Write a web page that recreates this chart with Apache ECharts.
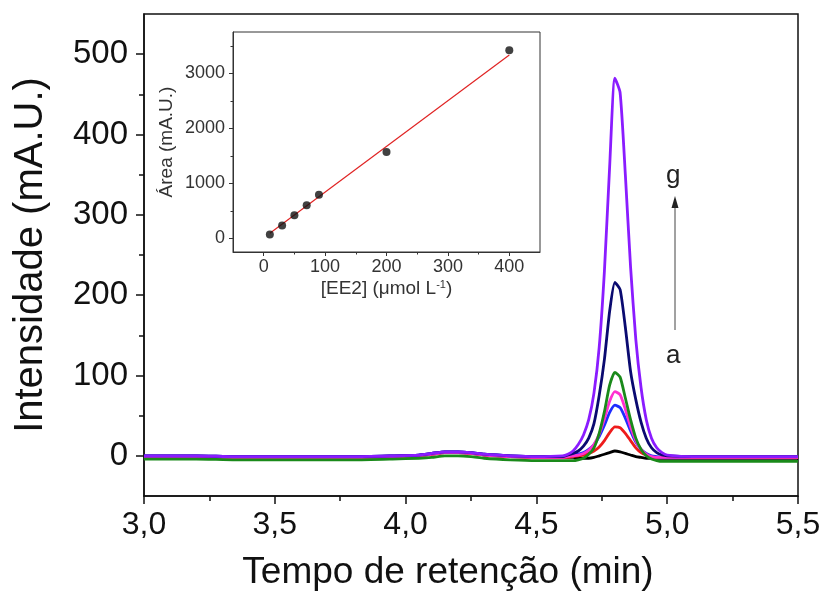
<!DOCTYPE html>
<html>
<head>
<meta charset="utf-8">
<script src="https://cdn.jsdelivr.net/npm/echarts@6/dist/echarts.min.js"></script>
<style>html,body{margin:0;padding:0;background:#fff}#c{width:825px;height:596px}</style>
</head>
<body>
<div id="c"></div>
<script>
// ---- Main chromatogram data (retention time in min, intensity in mA.U.) ----
const times = [3.0, 3.2, 3.35, 3.4, 3.6, 3.8, 3.95, 4.05, 4.1, 4.15, 4.2, 4.25, 4.3, 4.4, 4.5,
  4.60, 4.62, 4.64, 4.66, 4.68, 4.70, 4.72, 4.74, 4.76, 4.78, 4.80, 4.82, 4.84, 4.86, 4.88, 4.90, 4.92, 4.94, 4.96, 4.98, 5.00,
  5.1, 5.3, 5.5];
const curveA = [-1,-1,-2,-2,-2,-2,-1,0,2,4,4,3,1,-1,-2,
  -2,-2,-2,-3,-3,-3,-2,0,2,4,6,5,3,1,-1,-2,-3,-3,-3,-3,-3,
  -3,-3,-3];
const curveB = [-1,-1,-2,-2,-2,-2,-1,0,2,4,4,3,1,-1,-2,
  -2,-2,-1,0,1,3,6,11,19,29,36,35,28,19,10,4,1,-1,-2,-2,-2,
  -2,-2,-2];
const curveC = [0,0,-1,-1,-1,-1,0,1,3,5,5,4,2,0,-1,
  -1,0,1,2,4,8,14,24,38,54,63,60,47,31,17,8,3,0,-1,-2,-2,
  -1,-1,-1];
const curveD = [-1,-1,-2,-2,-2,-2,-1,0,2,4,4,3,1,-1,-2,
  -2,-1,0,1,3,7,14,27,46,68,80,76,58,36,19,8,2,-1,-2,-2,-2,
  -2,-2,-2];
const curveE = [-4,-4,-5,-5,-5,-5,-4,-3,-2,0,0,-1,-3,-5,-6,
  -6,-6,-6,-5,-3,2,10,28,55,88,104,98,72,45,22,8,0,-4,-6,-7,-7,
  -7,-7,-7];
const curveF = [0,0,-1,-1,-1,-1,0,1,3,5,5,4,2,0,-1,
  -1,1,3,6,12,22,40,75,120,180,216,207,160,105,70,42,22,10,4,1,0,
  -1,-1,-1];
const curveG = [0,0,-1,-1,-1,-1,0,1,3,5,5,4,2,0,-1,
  0,2,6,14,26,45,78,135,230,360,470,452,350,235,145,85,45,22,10,4,1,
  -1,-1,-1];
const curveNames = ['a','b','c','d','e','f','g'];
const curveColors = ['#000000','#ee1c1c','#1e2cff','#ff30d0','#1a8a1a','#0a0a70','#8a1cff'];
const curves = [curveA, curveB, curveC, curveD, curveE, curveF, curveG];
const mainYTicks = [0, 100, 200, 300, 400, 500];
const mainYMinor = [50, 150, 250, 350, 450];

// ---- Inset calibration data ----
const conc = [10, 30, 50, 70, 90, 200, 400];
const area = [70, 230, 420, 600, 790, 1570, 3420];
const fitX = [10, 400];
const fitY = [90, 3330];
const insetXTicks = [0, 100, 200, 300, 400];
const insetXMinor = [50, 150, 250, 350];
const insetYTicks = [0, 1000, 2000, 3000];
const insetYMinor = [500, 1500, 2500, 3500];

const FONT = '"Liberation Sans", Arial, sans-serif';
const chart = echarts.init(document.getElementById('c'), null, {renderer: 'canvas'});

const zip = (xs, ys) => xs.map((x, i) => [x, ys[i]]);

const series = curves.map((ys, i) => ({
  name: curveNames[i], type: 'line', xAxisIndex: 0, yAxisIndex: 0,
  data: zip(times, ys), showSymbol: false, smooth: 0.2,
  lineStyle: {color: curveColors[i], width: 2.8}, itemStyle: {color: curveColors[i]}, z: 2 + i
}));
series.push({
  type: 'line', xAxisIndex: 1, yAxisIndex: 2, data: zip(fitX, fitY), showSymbol: false,
  lineStyle: {color: '#e02424', width: 1.2}, z: 20
});
series.push({
  type: 'scatter', xAxisIndex: 1, yAxisIndex: 2, data: zip(conc, area), symbolSize: 8,
  itemStyle: {color: '#111'}, z: 21
});

const tickLbl = {fontFamily: FONT, color: '#111'};

const option = {
  animation: false,
  backgroundColor: '#fff',
  grid: [
    {left: 144, right: 27, top: 14, bottom: 96, show: true, borderColor: '#111', borderWidth: 1.5, backgroundColor: 'transparent'},
    {left: 233, right: 285, top: 32, bottom: 344, show: true, borderColor: '#333', borderWidth: 1, backgroundColor: '#fff', z: 10}
  ],
  xAxis: [
    {gridIndex: 0, type: 'value', min: 3, max: 5.5, interval: 0.5, position: 'bottom',
     axisLine: {onZero: false, lineStyle: {color: '#111', width: 1.5}},
     axisTick: {show: true, inside: false, length: 8, lineStyle: {color: '#111', width: 1.5}},
     minorTick: {show: true, splitNumber: 2, length: 5, lineStyle: {color: '#111', width: 1.5}},
     splitLine: {show: false}, minorSplitLine: {show: false},
     axisLabel: {...tickLbl, fontSize: 32, margin: 13, formatter: v => v.toFixed(1).replace('.', ',')},
     name: 'Tempo de retenção (min)', nameLocation: 'middle', nameGap: 58,
     nameTextStyle: {fontFamily: FONT, fontSize: 37, color: '#111', padding: [0, 46, 0, 0]}},
    {gridIndex: 1, type: 'value', min: -50, max: 450, position: 'bottom', z: 12,
     axisLine: {onZero: false, lineStyle: {color: '#333', width: 1}},
     axisTick: {show: true, inside: false, length: 4, customValues: insetXTicks, lineStyle: {color: '#333'}},
     splitLine: {show: false},
     axisLabel: {...tickLbl, color: '#333', fontSize: 18, margin: 6, customValues: insetXTicks, formatter: v => String(v)},
     name: '[EE2] (μmol L{sup|-1})', nameLocation: 'middle', nameGap: 27,
     nameTextStyle: {fontFamily: FONT, fontSize: 19, color: '#333',
       rich: {sup: {fontFamily: FONT, fontSize: 11, color: '#333', verticalAlign: 'top', padding: [0, 0, 9, 0]}}}},
    {gridIndex: 1, type: 'value', min: -50, max: 450, position: 'bottom', z: 12,
     axisLine: {show: false, onZero: false},
     axisTick: {show: true, inside: false, length: 2.5, customValues: insetXMinor, lineStyle: {color: '#333'}},
     splitLine: {show: false}, axisLabel: {show: false}}
  ],
  yAxis: [
    {gridIndex: 0, type: 'value', min: -50, max: 550, position: 'left',
     axisLine: {onZero: false, lineStyle: {color: '#111', width: 1.5}},
     axisTick: {show: true, inside: false, length: 8, customValues: mainYTicks, lineStyle: {color: '#111', width: 1.5}},
     splitLine: {show: false},
     axisLabel: {...tickLbl, fontSize: 33, margin: 16, customValues: mainYTicks, formatter: v => String(v)},
     name: 'Intensidade (mA.U.)', nameLocation: 'middle', nameGap: 93,
     nameTextStyle: {fontFamily: FONT, fontSize: 40, color: '#111'}},
    {gridIndex: 0, type: 'value', min: -50, max: 550, position: 'left',
     axisLine: {show: false, onZero: false},
     axisTick: {show: true, inside: false, length: 5, customValues: mainYMinor, lineStyle: {color: '#111', width: 1.5}},
     splitLine: {show: false}, axisLabel: {show: false}},
    {gridIndex: 1, type: 'value', min: -250, max: 3750, position: 'left', z: 12,
     axisLine: {onZero: false, lineStyle: {color: '#333', width: 1}},
     axisTick: {show: true, inside: false, length: 4, customValues: insetYTicks, lineStyle: {color: '#333'}},
     splitLine: {show: false},
     axisLabel: {...tickLbl, color: '#333', fontSize: 18, margin: 8, customValues: insetYTicks, formatter: v => String(v)},
     name: 'Área (mA.U.)', nameLocation: 'middle', nameGap: 57,
     nameTextStyle: {fontFamily: FONT, fontSize: 19, color: '#333'}},
    {gridIndex: 1, type: 'value', min: -250, max: 3750, position: 'left', z: 12,
     axisLine: {show: false, onZero: false},
     axisTick: {show: true, inside: false, length: 2.5, customValues: insetYMinor, lineStyle: {color: '#333'}},
     splitLine: {show: false}, axisLabel: {show: false}}
  ],
  graphic: [
    {type: 'text', left: 666, top: 163, style: {text: 'g', font: '26px ' + FONT, fill: '#222'}, z: 30},
    {type: 'text', left: 666, top: 343, style: {text: 'a', font: '26px ' + FONT, fill: '#222'}, z: 30},
    {type: 'line', shape: {x1: 675, y1: 330, x2: 675, y2: 206}, style: {stroke: '#444', lineWidth: 1}, z: 30},
    {type: 'polygon', shape: {points: [[675, 196], [671.5, 208], [678.5, 208]]}, style: {fill: '#222'}, z: 30}
  ],
  series: series
};
chart.setOption(option);
</script>
</body>
</html>
